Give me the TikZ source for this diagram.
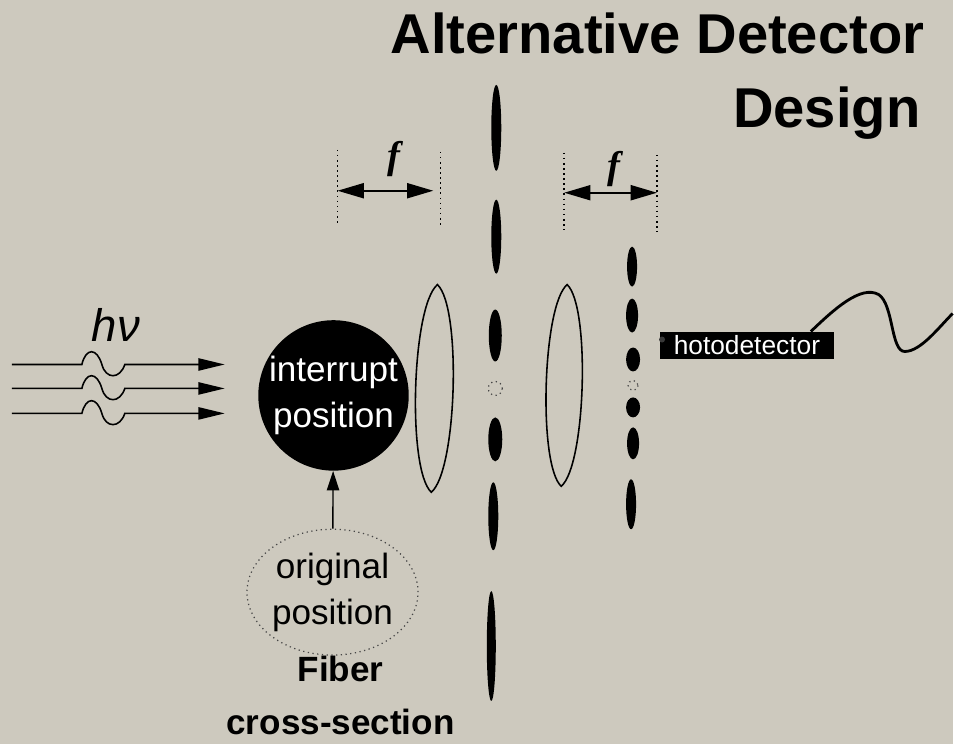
\documentclass[tikz,border=0pt]{standalone}
\usepackage{fontspec}
\setmainfont{Liberation Sans}
\newfontfamily\timesfont{Liberation Serif}
\usepackage{tikz}
\usetikzlibrary{arrows.meta, shapes.geometric}

\definecolor{paper}{RGB}{205,201,190}
\definecolor{dotgray}{RGB}{70,70,70}

\tikzset{
  photon/.style={line width=0.9pt, -{Triangle[length=15pt, width=7pt]}},
  flength/.style={line width=1.3pt, {Triangle[length=15pt, width=8.5pt]}-{Triangle[length=15pt, width=8.5pt]}},
  guide/.style={dotted, line width=0.9pt},
  lens/.style={line width=0.9pt},
  ghost/.style={dotted, line width=0.7pt, draw=dotgray},
  bigtext/.style={font=\fontsize{20}{26}\selectfont},
}

\begin{document}
\begin{tikzpicture}[x=0.02cm, y=-0.02cm]
  \fill[paper] (0,0) rectangle (954,745);

  % heading
  \node[anchor=base east, inner sep=0pt, font=\fontsize{32}{38}\selectfont\bfseries] (title1) at (926,54) {Alternative Detector};
  \node[anchor=base east, inner sep=0pt, font=\fontsize{32}{38}\selectfont\bfseries] (title2) at (922,128) {Design};

  % incoming photons
  \node[anchor=base, inner sep=0pt, font=\fontsize{26}{30}\selectfont\itshape] (hnu) at (116,342) {hν};
  \coordinate (in1) at (12,365);  \coordinate (out1) at (225,365);
  \coordinate (in2) at (12,389);  \coordinate (out2) at (225,389);
  \coordinate (in3) at (12,414);  \coordinate (out3) at (225,414);
  \draw[photon] (in1) -- (82,365) .. controls (86,348) and (97,348) .. (102,365) .. controls (106,380) and (120,380) .. (125,365) -- (out1);
  \draw[photon] (in2) -- (82,389) .. controls (86,372) and (97,372) .. (102,389) .. controls (106,404) and (120,404) .. (125,389) -- (out2);
  \draw[photon] (in3) -- (82,414) .. controls (86,397) and (97,397) .. (102,414) .. controls (106,429) and (120,429) .. (125,414) -- (out3);

  % fibre, moved and at rest
  \node[circle, fill=black, text=white, minimum size=2.84cm, inner sep=0pt, align=center, bigtext] (interrupt) at (334,396) {interrupt\\position};
  \node[ellipse, ghost, minimum width=2.96cm, minimum height=2.52cm, inner sep=0pt, align=center, bigtext] (original) at (333,593) {original\\position};
  \draw[line width=0.8pt, -{Triangle[length=11pt, width=7pt]}] (original) -- (interrupt);
  \node[anchor=base, inner sep=0pt, font=\fontsize{20}{26}\selectfont\bfseries] (fiber1) at (341,682) {Fiber};
  \node[anchor=base, inner sep=0pt, font=\fontsize{20}{26}\selectfont\bfseries] (fiber2) at (341,736) {cross-section};

  % focal lengths
  \draw[guide] (338,150) -- (338,225);
  \draw[guide] (441,152) -- (441,228);
  \coordinate (fa) at (338,191);  \coordinate (fb) at (434,191);
  \draw[flength] (fa) -- (fb);
  \node[anchor=base, inner sep=0pt, font=\timesfont\bfseries\itshape\fontsize{22}{26}\selectfont] (f1) at (394,169) {f};
  \draw[guide] (565,153) -- (565,230);
  \draw[guide] (658,155) -- (658,232);
  \coordinate (fc) at (565,193);  \coordinate (fd) at (658,193);
  \draw[flength] (fc) -- (fd);
  \node[anchor=base, inner sep=0pt, font=\timesfont\bfseries\itshape\fontsize{22}{26}\selectfont] (f2) at (615,179) {f};

  % lenses
  \begin{scope}[shift={(435,389)}, rotate=-1.7]
    \draw[lens] (0,-104) .. controls (25,-82) and (25,82) .. (0,104) .. controls (-25,82) and (-25,-82) .. (0,-104) -- cycle;
  \end{scope}
  \begin{scope}[shift={(565,386)}, rotate=-1.7]
    \draw[lens] (0,-101) .. controls (24,-80) and (24,80) .. (0,101) .. controls (-24,80) and (-24,-80) .. (0,-101) -- cycle;
  \end{scope}

  % pattern in the focal plane
  \fill (497,128) ellipse [x radius=5, y radius=43];
  \fill (497,237) ellipse [x radius=5, y radius=37];
  \fill (496,336) ellipse [x radius=6.5, y radius=26];
  \draw[ghost] (496,389) circle (7);
  \fill (496,440) ellipse [x radius=7, y radius=22];
  \fill (494,517) ellipse [x radius=5, y radius=34];
  \fill (492,647) ellipse [x radius=4.5, y radius=55];

  % pattern in front of the detector
  \fill (633,267) ellipse [x radius=5, y radius=20];
  \fill (633,316) ellipse [x radius=6, y radius=17];
  \fill (634,360) ellipse [x radius=7, y radius=12];
  \draw[ghost] (634,386) circle (5);
  \fill (634,408) ellipse [x radius=7, y radius=10];
  \fill (634,444) ellipse [x radius=6, y radius=16];
  \fill (632,505) ellipse [x radius=5, y radius=25];

  % detector and its lead
  \node[fill=black, text=white, minimum width=3.48cm, minimum height=0.56cm, inner sep=0pt, font=\fontsize{15}{18}\selectfont] (detector) at (748,346) {hotodetector};
  \fill[gray!45!black] (663,340) circle (3);
  \coordinate (plug) at (812,332);
  \coordinate (lead) at (954,314);
  \draw[line width=1.6pt] (plug) .. controls (835,310) and (862,285) .. (880,295) .. controls (895,305) and (892,352) .. (906,352) .. controls (922,352) and (940,328) .. (lead);
\end{tikzpicture}
\end{document}
